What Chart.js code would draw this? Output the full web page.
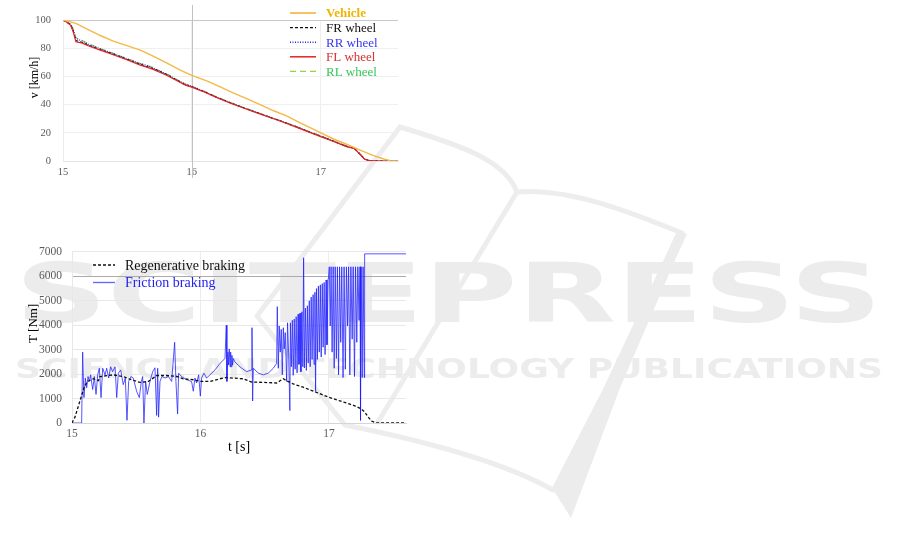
<!DOCTYPE html>
<html>
<head>
<meta charset="utf-8">
<title>Braking test</title>
<script src="https://cdn.jsdelivr.net/npm/chart.js@4.4.1/dist/chart.umd.min.js"></script>
<style>
  html, body { margin: 0; padding: 0; background: #fff; }
  #wrap { position: relative; width: 901px; height: 553px; overflow: hidden; }
  canvas { position: absolute; }
  #mark { left: 0; top: 0; }
  #speedChart { left: 0; top: 0; }
  #torqueChart { left: 0; top: 235px; }
</style>
</head>
<body>
<div id="wrap">
  <canvas id="mark" width="901" height="553"></canvas>
  <canvas id="speedChart" width="420" height="190"></canvas>
  <canvas id="torqueChart" width="420" height="230"></canvas>
</div>
<script>
// ---- speed chart data (t [s], v [km/h]) ----
const vehicleTime = [15.00, 15.10, 15.18, 15.29, 15.39, 15.49, 15.60, 15.70, 15.80, 15.91, 16.00, 16.12, 16.22, 16.32, 16.43, 16.53, 16.63, 16.74, 16.84, 16.95, 17.00, 17.10, 17.21, 17.31, 17.41, 17.49, 17.54, 17.60];
const vehicleSpeed = [100, 97.6, 93.8, 89, 85, 82, 78.7, 74.4, 69.7, 64.5, 60.7, 56.6, 52.6, 48.3, 44, 40, 35.8, 31.8, 27, 22.3, 19.9, 15.6, 11.6, 7.6, 3.8, 1.4, 0.2, 0];

const wheelTime = [15.00, 15.03, 15.06, 15.08, 15.10, 15.15, 15.20, 15.29, 15.40, 15.50, 15.60, 15.65, 15.70, 15.80, 15.90, 15.95, 16.00, 16.10, 16.19, 16.30, 16.40, 16.50, 16.60, 16.70, 16.80, 16.90, 17.00, 17.10, 17.20, 17.26, 17.30, 17.34, 17.38, 17.45, 17.60];
const frSpeed = [100, 98.5, 96.5, 92, 85.5, 84, 82, 79, 75.5, 72, 68.5, 67, 65.5, 61.4, 56.5, 54, 52.6, 49, 45.3, 41.2, 37.8, 34.5, 31.2, 28, 24.6, 21, 17.5, 14, 10.4, 9, 5.3, 1.4, 0.2, 0, 0];
const rrSpeed = [100, 98.7, 97, 93, 87, 85, 82.8, 79.6, 75.8, 72.4, 69, 67.8, 66, 61.8, 56.8, 54.5, 53, 49.2, 45.5, 41.3, 37.9, 34.6, 31.3, 28.1, 24.8, 21.2, 17.7, 14.2, 10.6, 9.1, 5.5, 1.5, 0.2, 0, 0];
const flSpeed = [100, 98.4, 96.2, 91.5, 84.5, 83.6, 81.6, 78.6, 75, 71.6, 68, 66.6, 65, 61, 56.2, 53.8, 52.4, 48.8, 45.1, 41, 37.6, 34.3, 31, 27.8, 24.4, 20.8, 17.3, 13.8, 10.2, 8.9, 5.2, 1.3, 0.2, 0, 0];
const rlSpeed = [100, 98.8, 97.2, 93.5, 87.5, 85.4, 83, 79.8, 76, 72.6, 69.2, 68, 66.2, 62, 57, 54.6, 53.1, 49.3, 45.6, 41.4, 38, 34.7, 31.4, 28.2, 24.9, 21.3, 17.8, 14.3, 10.7, 9.2, 5.6, 1.6, 0.2, 0, 0];

// ---- torque chart data (t [s], T [Nm]) ----
const regenTime = [15.000, 15.023, 15.062, 15.093, 15.120, 15.166, 15.205, 15.218, 15.320, 15.400, 15.440, 15.530, 15.594, 15.660, 15.737, 15.815, 15.866, 15.944, 15.996, 16.074, 16.152, 16.204, 16.255, 16.333, 16.398, 16.489, 16.593, 16.620, 16.645, 16.670, 16.722, 16.800, 16.878, 16.956, 17.008, 17.085, 17.163, 17.200, 17.254, 17.280, 17.306, 17.332, 17.370, 17.600];
const regenTorque = [0, 240, 905, 1437, 1700, 1810, 1730, 1900, 1970, 1900, 1810, 1660, 1700, 1943, 1943, 1903, 1810, 1770, 1703, 1703, 1810, 1863, 1836, 1810, 1677, 1663, 1637, 1730, 1810, 1730, 1597, 1464, 1304, 1144, 1038, 905, 772, 705, 572, 439, 240, 80, 0, 0];

const frictionTime = [
  15.000, 15.075, 15.083, 15.093, 15.104, 15.114, 15.125, 15.135, 15.145, 15.161, 15.174, 15.187, 15.200, 15.213, 15.226, 15.239, 15.257, 15.270, 15.285, 15.301,
  15.316, 15.335, 15.348, 15.361, 15.379, 15.399, 15.415, 15.428, 15.441, 15.459, 15.477, 15.503, 15.524, 15.540, 15.550, 15.560, 15.573, 15.586, 15.607, 15.628,
  15.646, 15.659, 15.667, 15.674, 15.685, 15.700, 15.724, 15.750, 15.776, 15.799, 15.809, 15.822, 15.830, 15.853, 15.892, 15.931, 15.944, 15.957, 15.970, 15.986,
  15.999, 16.009, 16.027, 16.048, 16.074, 16.113, 16.152, 16.191, 16.201, 16.206, 16.214, 16.219, 16.224, 16.230, 16.235, 16.240, 16.245, 16.250, 16.256, 16.268,
  16.307, 16.359, 16.398, 16.401, 16.406, 16.411, 16.450, 16.489, 16.528, 16.567, 16.593, 16.598, 16.606, 16.613, 16.621, 16.629, 16.637, 16.645, 16.652, 16.660,
  16.671, 16.678, 16.686, 16.696,
  16.700, 16.707, 16.715, 16.722, 16.730, 16.737, 16.745, 16.752, 16.760, 16.767, 16.775, 16.782, 16.790, 16.797, 16.803, 16.809, 16.817, 16.824, 16.832, 16.839,
  16.847, 16.854, 16.862, 16.869, 16.877, 16.884, 16.891, 16.896, 16.903, 16.910, 16.918, 16.925, 16.933, 16.940, 16.948, 16.955, 16.963, 16.970, 16.978, 16.985,
  16.993, 16.997,
  17.003, 17.010, 17.017, 17.025, 17.033, 17.041, 17.049, 17.058, 17.066, 17.075, 17.083, 17.092, 17.100, 17.110, 17.118, 17.128, 17.136, 17.145, 17.153, 17.163,
  17.171, 17.181, 17.189, 17.199, 17.207, 17.217, 17.225, 17.235, 17.242, 17.246, 17.251, 17.259, 17.266, 17.275, 17.278, 17.600
];
const frictionTorque = [
  0, 0, 2900, 1040, 1840, 1440, 1900, 1700, 1970, 1370, 1900, 1170, 1970, 2240, 1040, 2240, 1970, 2240, 1840, 2300,
  2100, 2300, 1040, 2040, 2170, 1570, 1840, 110, 1700, 1900, 1840, 1300, 1040, 1700, 1900, 0, 1700, 1170, 1700, 2100,
  2260, 310, 2240, 240, 1700, 1900, 1840, 1900, 1700, 3300, 1700, 370, 2040, 1900, 1770, 1700, 1300, 1840, 1640, 1970,
  1100, 1840, 2040, 1840, 1970, 2170, 2440, 2640, 4000, 1700, 2900, 2370, 3030, 2300, 2900, 2300, 2770, 2370, 2640, 2500,
  2300, 2100, 2170, 3900, 900, 2240, 2040, 1970, 2040, 2240, 2440, 4760, 2240, 3970, 2900, 3830, 1970, 3900, 3030, 3700,
  1700, 4100, 2900, 510,
  4100, 2300, 4200, 1950, 4250, 2200, 4350, 2050, 4450, 2400, 4500, 2100, 4550, 2300, 6760, 2250, 4700, 2150, 4800, 2450,
  5000, 2300, 5150, 2600, 5250, 2400, 5350, 1300, 5500, 2600, 5600, 2900, 5650, 2700, 5700, 3100, 5750, 2800, 5850, 3200,
  5900, 6000,
  6390, 3970, 6390, 2900, 6390, 2240, 6390, 2640, 6390, 1970, 6390, 3300, 6390, 1860, 6390, 2200, 6390, 3970, 6390, 1970,
  6390, 3430, 6390, 1900, 6390, 3300, 6390, 4200, 6390, 110, 6390, 1860, 6390, 1860, 6920, 6920
];

const timeTicks = { min: 15, max: 17.6, step: 1 };

function pts(xs, ys) {
  return xs.map((x, i) => ({ x: x, y: ys[i] }));
}

// ---- watermark behind the charts ----
function drawMark() {
  const ctx = document.getElementById('mark').getContext('2d');
  ctx.fillStyle = '#ececec';
  ctx.strokeStyle = '#ededed';

  const fitText = (text, weight, left, right, baseline, capH) => {
    ctx.font = weight + ' ' + (capH / 0.73) + 'px "DejaVu Sans"';
    const w = ctx.measureText(text).width;
    ctx.save();
    ctx.translate(left, baseline);
    ctx.scale((right - left) / w, 1);
    ctx.fillText(text, 0, 0);
    ctx.restore();
  };

  ctx.lineWidth = 5;
  ctx.lineCap = 'round';
  ctx.lineJoin = 'round';
  ctx.beginPath();
  ctx.moveTo(400, 127);
  ctx.lineTo(257, 316);
  ctx.lineTo(345, 425);
  ctx.bezierCurveTo(420, 440, 500, 460, 553, 490);
  ctx.stroke();

  ctx.beginPath();
  ctx.moveTo(400, 127);
  ctx.bezierCurveTo(460, 145, 505, 160, 517, 192);
  ctx.bezierCurveTo(570, 188, 630, 212, 682, 233);
  ctx.stroke();

  ctx.beginPath();
  ctx.moveTo(517, 192);
  ctx.lineTo(378, 422);
  ctx.stroke();

  ctx.beginPath();
  ctx.moveTo(552, 488);
  ctx.lineTo(603, 389);
  ctx.lineTo(665, 257);
  ctx.lineTo(677, 231);
  ctx.lineTo(687, 234);
  ctx.lineTo(676, 258);
  ctx.lineTo(620, 388);
  ctx.lineTo(571, 518);
  ctx.closePath();
  ctx.fill();

  fitText('SCITEPRESS', 'bold', 15, 882, 322, 60);
  fitText('SCIENCE AND TECHNOLOGY PUBLICATIONS', '600', 15, 883, 378, 20);
}

// ---- small plugins ----
const lineLegend = {
  id: 'lineLegend',
  afterDraw(chart, args, opts) {
    const ctx = chart.ctx;
    ctx.save();
    chart.data.datasets.forEach((ds, i) => {
      const y = opts.y + i * opts.gap;
      ctx.beginPath();
      ctx.setLineDash(ds.borderDash || []);
      ctx.strokeStyle = ds.legendLine || ds.borderColor;
      ctx.lineWidth = ds.borderWidth + 0.3;
      ctx.moveTo(opts.x, y);
      ctx.lineTo(opts.x + opts.len, y);
      ctx.stroke();
      ctx.setLineDash([]);
      ctx.fillStyle = ds.legendText || ds.borderColor;
      ctx.font = (ds.legendBold ? 'bold ' : '') + opts.size + 'px "Liberation Serif"';
      ctx.textBaseline = 'middle';
      ctx.fillText(ds.label, opts.x + opts.len + opts.space, y + 1);
    });
    ctx.restore();
  }
};

const sideTitle = {
  id: 'sideTitle',
  afterDraw(chart, args, opts) {
    const ctx = chart.ctx;
    const area = chart.chartArea;
    ctx.save();
    ctx.translate(opts.x, (area.top + area.bottom) / 2 + opts.shift);
    ctx.rotate(-Math.PI / 2);
    ctx.font = opts.size + 'px "Liberation Serif"';
    ctx.fillStyle = '#000';
    ctx.textAlign = 'center';
    ctx.textBaseline = 'middle';
    ctx.fillText(opts.text, 0, 0);
    ctx.restore();
  }
};

const cursorLine = {
  id: 'cursorLine',
  beforeDatasetsDraw(chart, args, opts) {
    if (opts.at === undefined) return;
    const ctx = chart.ctx;
    const x = Math.round(chart.scales.x.getPixelForValue(opts.at)) + 0.5;
    ctx.save();
    ctx.strokeStyle = '#c2c2c2';
    ctx.lineWidth = 1;
    ctx.beginPath();
    ctx.moveTo(x, opts.from);
    ctx.lineTo(x, opts.to);
    ctx.stroke();
    ctx.restore();
  }
};

const tickFont = (size) => ({ family: 'Liberation Serif', size: size });
const plainNumber = (v) => String(v);

drawMark();

new Chart(document.getElementById('speedChart'), {
  type: 'line',
  data: {
    datasets: [
      { label: 'Vehicle', data: pts(vehicleTime, vehicleSpeed), borderColor: '#f6b845', borderWidth: 1.4, legendText: '#f2b200', legendBold: true, order: 0 },
      { label: 'FR wheel', data: pts(wheelTime, frSpeed), borderColor: '#111111', borderWidth: 1.1, borderDash: [3, 2], order: 2 },
      { label: 'RR wheel', data: pts(wheelTime, rrSpeed), borderColor: '#2a2aee', borderWidth: 1.2, borderDash: [1, 1.5], legendText: '#3535f5', order: 3 },
      { label: 'FL wheel', data: pts(wheelTime, flSpeed), borderColor: '#e62222', borderWidth: 1.2, legendText: '#d83030', order: 1 },
      { label: 'RL wheel', data: pts(wheelTime, rlSpeed), borderColor: '#8fd44c', borderWidth: 1.1, borderDash: [6, 4], legendText: '#35c45a', order: 4 }
    ]
  },
  options: {
    responsive: false,
    animation: false,
    devicePixelRatio: 1,
    layout: { padding: { left: 0, right: 22, top: 20, bottom: 0 } },
    elements: { point: { radius: 0 }, line: { tension: 0 } },
    plugins: {
      legend: { display: false },
      tooltip: { enabled: false },
      lineLegend: { x: 290, y: 13, gap: 14.6, len: 26, space: 10, size: 13 },
      sideTitle: { text: 'v [km/h]', x: 35, shift: -13, size: 12 },
      cursorLine: { at: 16, from: 5, to: 178 }
    },
    scales: {
      x: {
        type: 'linear', min: timeTicks.min, max: timeTicks.max,
        afterFit: (s) => { s.height = 29; },
        ticks: { stepSize: timeTicks.step, includeBounds: false, padding: 5, color: '#5a5a5a', font: tickFont(10.5), callback: plainNumber },
        grid: { color: '#eeeeee', drawTicks: false },
        border: { color: '#e4e4e4' }
      },
      y: {
        min: 0, max: 100,
        afterFit: (s) => { s.width = 63; },
        ticks: { stepSize: 20, padding: 12, color: '#5a5a5a', font: tickFont(10.5), callback: plainNumber },
        grid: { color: (c) => (c.tick && c.tick.value === 100 ? '#c8c8c8' : '#efefef'), drawTicks: false },
        border: { color: '#ececec' }
      }
    }
  },
  plugins: [cursorLine, lineLegend, sideTitle]
});

new Chart(document.getElementById('torqueChart'), {
  type: 'line',
  data: {
    datasets: [
      { label: 'Regenerative braking', data: pts(regenTime, regenTorque), borderColor: '#111111', borderWidth: 1.3, borderDash: [3, 2], legendText: '#111' },
      { label: 'Friction braking', data: pts(frictionTime, frictionTorque), borderColor: 'rgba(30,30,255,0.75)', borderWidth: 1, legendLine: 'rgba(60,60,255,0.8)', legendText: '#2323f0' }
    ]
  },
  options: {
    responsive: false,
    animation: false,
    devicePixelRatio: 1,
    layout: { padding: { left: 0, right: 14, top: 13, bottom: 5 } },
    elements: { point: { radius: 0 }, line: { tension: 0 } },
    plugins: {
      legend: { display: false },
      tooltip: { enabled: false },
      lineLegend: { x: 93, y: 30, gap: 17.5, len: 22, space: 10, size: 14 },
      sideTitle: { text: 'T [Nm]', x: 34, shift: -14, size: 13 }
    },
    scales: {
      x: {
        type: 'linear', min: timeTicks.min, max: timeTicks.max,
        afterFit: (s) => { s.height = 37; },
        title: { display: true, text: 't [s]', color: '#000', font: { family: 'Liberation Serif', size: 14 }, padding: { top: 0, bottom: 4 } },
        ticks: { stepSize: timeTicks.step, includeBounds: false, padding: 4, color: '#5a5a5a', font: tickFont(11.5), callback: plainNumber },
        grid: { color: '#ececec', drawTicks: false },
        border: { color: '#d6d6d6' }
      },
      y: {
        min: 0, max: 7000,
        afterFit: (s) => { s.width = 72; },
        ticks: { stepSize: 1000, padding: 10, color: '#5a5a5a', font: tickFont(11.5), callback: plainNumber },
        grid: { color: (c) => (c.tick && c.tick.value === 6000 ? '#ababab' : '#e8e8e8'), drawTicks: false },
        border: { color: '#e8e8e8' }
      }
    }
  },
  plugins: [lineLegend, sideTitle]
});
</script>
</body>
</html>
